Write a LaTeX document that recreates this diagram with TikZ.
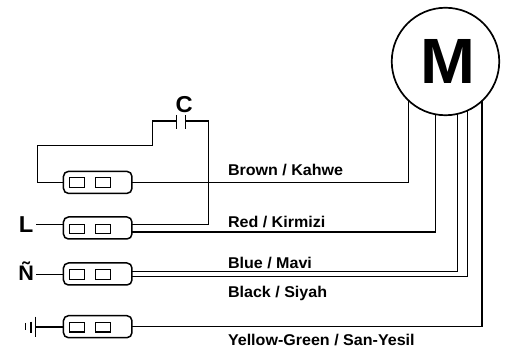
\documentclass[tikz,border=0pt]{standalone}
\usepackage{fontspec}
\setmainfont{Liberation Sans}[FakeStretch=1.03]
\tikzset{
  wire/.style={line width=1.2pt,line join=miter,line cap=butt},
  blockbox/.style={draw,line width=1.5pt,rounded corners=5pt,minimum width=68.5pt,minimum height=22pt,inner sep=0pt,outer sep=0pt},
  pin/.style={draw,line width=1.1pt,minimum width=14.3pt,minimum height=9.4pt,inner sep=0pt,outer sep=0pt},
  lab/.style={anchor=base west,inner sep=0pt,outer sep=0pt,font=\fontsize{15.6}{16}\selectfont\bfseries},
  big/.style={anchor=base west,inner sep=0pt,outer sep=0pt,font=\fontsize{23}{24}\selectfont\bfseries},
}
\begin{document}
\begin{tikzpicture}[x=1pt,y=-1pt]
\useasboundingbox (0,0) rectangle (507,352);
% motor
\node[draw,circle,line width=1.7pt,minimum size=107.5pt,inner sep=0pt,outer sep=0pt] (m) at (445.5,61.5) {};
\node[inner sep=0pt,outer sep=0pt,anchor=base,font=\fontsize{64}{64}\selectfont\bfseries] (mt) at (447.5,83.3) {M};
% connector blocks
\node[blockbox] (b1) at (97.7,182.4) {};
\node[blockbox] (b2) at (97.7,228) {};
\node[blockbox] (b3) at (97.7,274) {};
\node[blockbox] (b4) at (97.7,326.7) {};
\foreach \n/\y in {1/182.5,2/228.8,3/274.5,4/327.3}{
  \node[pin] (p\n a) at (76.9,\y) {};
  \node[pin] (p\n b) at (102.9,\y) {};
}
% named wire ends on the motor
\coordinate (mbrown) at (408.3,100.6);
\coordinate (mred) at (435.7,114.6);
\coordinate (mblue) at (457.5,114.1);
\coordinate (mblack) at (467.5,110.8);
\coordinate (myellow) at (482,101.3);
% capacitor
\coordinate (cl) at (176.7,121);
\coordinate (cr) at (185.3,121);
\draw[wire] (cl |- 0,115) -- (cl |- 0,129.3);
\draw[wire] (cr |- 0,115) -- (cr |- 0,129.3);
\draw[wire] (b1.west) -- (37.7,182.4) -- (37.7,145.7) -- (152.3,145.7) -- (152.3,121) -- (cl);
\draw[wire] (cr) -- (208.3,121) -- (208.3,224.7) -- (131.95,224.7);
% motor wires
\draw[wire] (b1.east) -- (408.3,182.4) -- (mbrown);
\draw[wire] (131.95,232) -- (435.7,232) -- (mred);
\draw[wire] (131.95,271.8) -- (457.5,271.8) -- (mblue);
\draw[wire] (131.95,276.8) -- (467.5,276.8) -- (mblack);
\draw[wire] (b4.east) -- (482,326.7) -- (myellow);
% left feeds
\coordinate (lend) at (36,224.7);
\coordinate (nend) at (36,274.5);
\coordinate (gnd) at (35.7,327);
\draw[wire] (lend) -- (lend -| b2.west);
\draw[wire] (nend) -- (nend -| b3.west);
\draw[wire] (gnd) -- (gnd -| b4.west);
\draw[wire] (35.7,316.7) -- (35.7,337.3);
\draw[wire] (31,321.7) -- (31,333);
\draw[wire] (25.7,323) -- (25.7,330.5);
% labels
\node[big] (tc) at (175.5,112.7) {C};
\node[big] (tl) at (19,232.7) {L};
\node[big,font=\fontsize{21}{24}\selectfont\bfseries] (tn) at (18.5,281) {Ñ};
\node[lab] (t1) at (228,175.7) {Brown / Kahwe};
\node[lab] (t2) at (228,228) {Red / Kirmizi};
\node[lab] (t3) at (228,268.3) {Blue / Mavi};
\node[lab] (t4) at (228,297.3) {Black / Siyah};
\node[lab] (t5) at (228,346) {Yellow-Green / San-Yesil};
\end{tikzpicture}
\end{document}
